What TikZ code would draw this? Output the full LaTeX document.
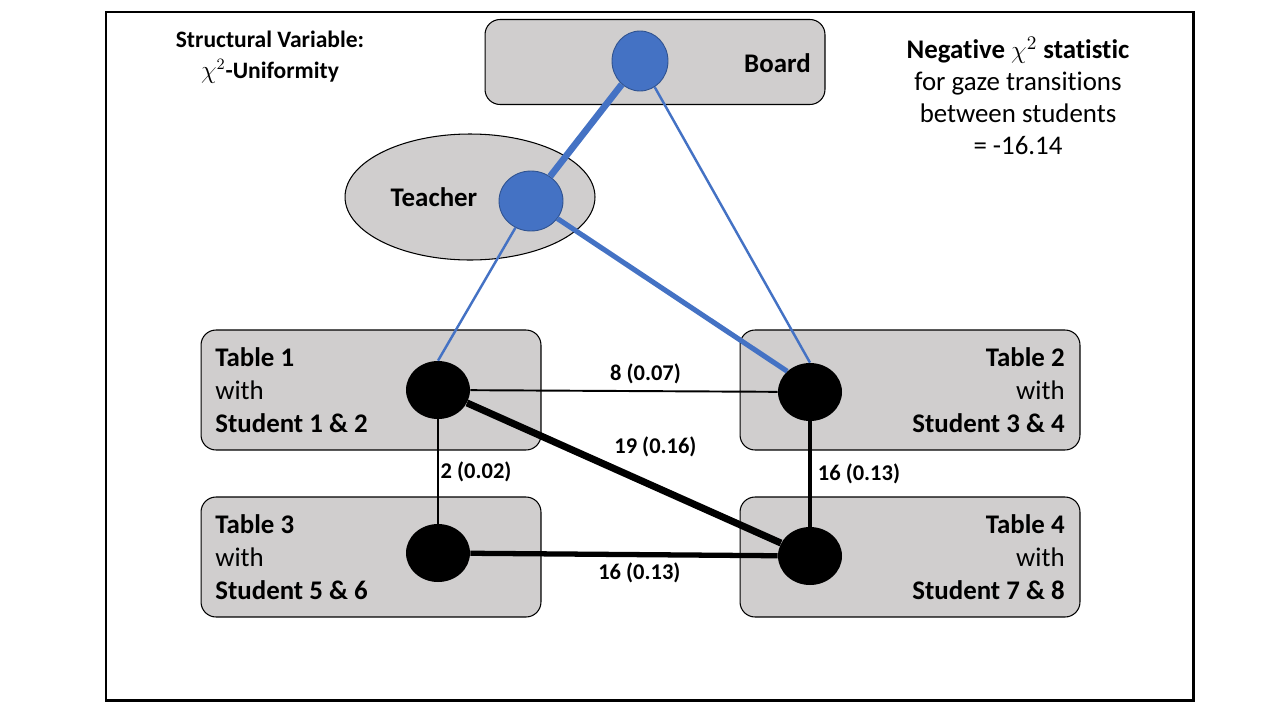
\documentclass[tikz,border=0pt]{standalone}
\usepackage{amsmath, amssymb}
\usepackage{fontspec}
\setmainfont{Carlito}[Ligatures=NoCommon]
\usepackage{tikz}
\usetikzlibrary{shapes.geometric}

\definecolor{boxgray}{HTML}{D0CECE}
\definecolor{gazeblue}{HTML}{4472C4}
\definecolor{gazeedge}{HTML}{2F528F}

\begin{document}
\begin{tikzpicture}[x=0.02cm, y=-0.02cm,
        tablebox/.style={draw, line width=0.6pt, rounded corners=0.3cm, fill=boxgray, minimum width=6.8cm, minimum height=2.4cm},
        tabletext/.style={inner sep=0, font=\fontsize{15.3}{18.7}\selectfont},
        gazedot/.style={ellipse, draw=gazeedge, line width=0.5pt, fill=gazeblue, inner sep=0},
        studentdot/.style={ellipse, fill=black, inner sep=0, minimum width=1.28cm, minimum height=1.16cm},
        countlabel/.style={font=\fontsize{12.8}{15}\selectfont\bfseries}]
                \useasboundingbox (0, 0) rectangle (1280, 720);
                % okvir
                \draw[line width=1.7pt] (106, 12) rectangle (1193, 700);

                % tabla, ucitelj
                \node (boardbox) at (655, 62) [tablebox, minimum height=1.7cm] {};
                \node at (811, 63) [anchor=east, tabletext] {\textbf{Board}};
                \node (teacherbox) at (470, 197) [ellipse, draw, line width=0.6pt, fill=boxgray, minimum width=5cm, minimum height=2.52cm] {};
                \node at (434, 197) [tabletext] {\textbf{Teacher}};
                \node (board) at (640, 61) [gazedot, minimum width=1.12cm, minimum height=1.2cm] {};
                \node (teacher) at (531, 201) [gazedot, minimum width=1.28cm, minimum height=1.2cm] {};

                % mize
                \node (table1) at (371, 390) [tablebox] {};
                \node (table2) at (910, 390) [tablebox] {};
                \node (table3) at (371, 557) [tablebox] {};
                \node (table4) at (910, 557) [tablebox] {};
                \node at (215, 390) [anchor=west, align=left, tabletext] {\textbf{Table 1}\\with\\\textbf{Student 1 \& 2}};
                \node at (1065, 390) [anchor=east, align=right, tabletext] {\textbf{Table 2}\\with\\\textbf{Student 3 \& 4}};
                \node at (215, 557) [anchor=west, align=left, tabletext] {\textbf{Table 3}\\with\\\textbf{Student 5 \& 6}};
                \node at (1065, 557) [anchor=east, align=right, tabletext] {\textbf{Table 4}\\with\\\textbf{Student 7 \& 8}};
                \node (t1) at (438, 390) [studentdot] {};
                \node (t2) at (810, 392) [studentdot] {};
                \node (t3) at (438, 553) [studentdot] {};
                \node (t4) at (810, 556) [studentdot] {};

                % pogledi ucitelja
                \draw[gazeblue, line width=3.8pt] (board) -- (teacher);
                \draw[gazeblue, line width=1.4pt] (board) -- (t2.north);
                \draw[gazeblue, line width=1.4pt] (teacher) -- (t1.north);
                \draw[gazeblue, line width=2.9pt] (teacher) -- (t2.north west);

                % prehodi med ucenci
                \draw[line width=1.1pt] (t1) -- node[above, pos=0.57, countlabel] {8 (0.07)} (t2);
                \draw[line width=4pt] (t1) -- node[above=0.42cm, pos=0.6, countlabel] {19 (0.16)} (t4);
                \draw[line width=1.1pt] (t1) -- node[right, inner sep=1pt, countlabel] {2 (0.02)} (t3);
                \draw[line width=2.3pt] (t2) -- node[right, countlabel] {16 (0.13)} (t4);
                \draw[line width=3pt] (t3) -- node[below, pos=0.55, countlabel] {16 (0.13)} (t4);

                % napisi
                \node at (270, 57) [align=center, font=\fontsize{13.4}{17.6}\selectfont\bfseries] {Structural Variable:\\$\chi^2$-Uniformity};
                \node at (1018, 96) [align=center, font=\fontsize{15.3}{18.1}\selectfont] {\textbf{Negative $\chi^2$ statistic}\\for gaze transitions\\between students\\= -16.14};
            \end{tikzpicture}
\end{document}
